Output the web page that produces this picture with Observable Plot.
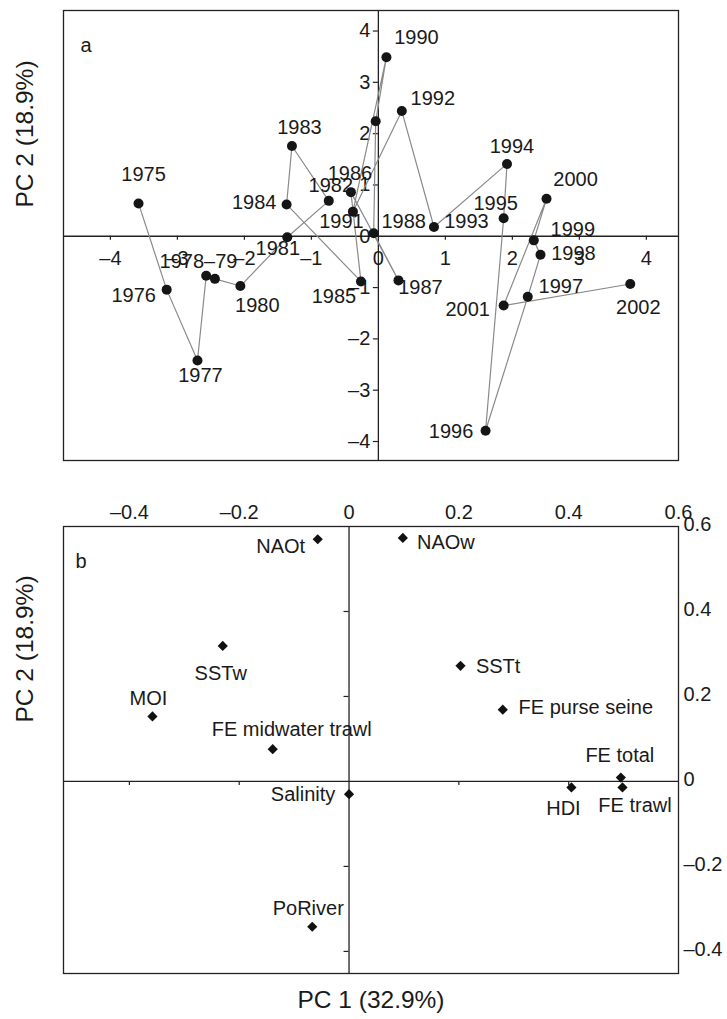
<!DOCTYPE html>
<html>
<head>
<meta charset="utf-8">
<script src="https://cdn.jsdelivr.net/npm/d3@7"></script>
<script src="https://cdn.jsdelivr.net/npm/@observablehq/plot@0.6"></script>
<style>
html, body { margin: 0; padding: 0; background: #fff; overflow: hidden; }
#wrap { position: relative; width: 727px; height: 1019px; }
#wrap > div { position: absolute; left: 0; }
</style>
</head>
<body>
<div id="wrap"><div id="pa" style="top:0px"></div><div id="pb" style="top:490px"></div></div>
<script>
// ---------- Panel a: PCA scores per year ----------
const years = [1975,1976,1977,1978,1979,1980,1981,1982,1983,1984,1985,1986,1987,1988,1989,1990,1991,1992,1993,1994,1995,1996,1997,1998,1999,2000,2001,2002];
const yearLabels = ["1975","1976","1977","1978–79","","1980","1981","1982","1983","1984","1985","1986","1987","1988","","1990","1991","1992","1993","1994","1995","1996","1997","1998","1999","2000","2001","2002"];
const pc1Years = [-3.58,-3.16,-2.70,-2.57,-2.44,-2.06,-1.36,-0.74,-1.29,-1.37,-0.26,-0.41,0.30,-0.07,-0.04,0.12,-0.38,0.35,0.83,1.92,1.87,1.60,2.23,2.42,2.32,2.51,1.87,3.76];
const pc2Years = [0.64,-1.04,-2.42,-0.77,-0.83,-0.97,-0.02,0.69,1.76,0.62,-0.88,0.86,-0.86,0.06,2.24,3.49,0.48,2.44,0.18,1.41,0.35,-3.79,-1.18,-0.36,-0.08,0.73,-1.35,-0.93];
const ticksA = [-4,-3,-2,-1,0,1,2,3,4];

// ---------- Panel b: variable loadings ----------
const variables = ["NAOt","NAOw","SSTw","MOI","FE midwater trawl","SSTt","FE purse seine","FE total","FE trawl","HDI","Salinity","PoRiver"];
const pc1Vars = [-0.057,0.098,-0.230,-0.358,-0.139,0.203,0.280,0.495,0.498,0.405,0.000,-0.067];
const pc2Vars = [0.570,0.573,0.319,0.153,0.076,0.272,0.169,0.009,-0.014,-0.014,-0.030,-0.342];
const ticksBX = [-0.4,-0.2,0,0.2,0.4,0.6];
const ticksBY = [0.6,0.4,0.2,0,-0.2,-0.4];

// ---------- label placement (styles, pixel offsets from point) ----------
const yearLabelOffsets = [[5,-29],[-33,6],[3,15.5],[-7.7,-14.3],[0,0],[17,19.5],[-9.5,11],[2,-15],[7.5,-18.6],[-32.4,-1.5],[-27,15],[-1,-19],[22,7.5],[30,-11.4],[0,0],[30,-20],[-11.5,9.5],[31,-12],[32.5,-5],[5,-17],[-8,-15],[-34.5,1],[33,-10],[33,-1],[39,-10.5],[29,-19],[-36,4.5],[8,24]];
const varLabelOffsets = [[-37,7.5],[43,5],[-2,27.5],[-4,-18],[19,-20],[37.6,1],[83,-2],[-1,-22.5],[12.5,18.3],[-8,21],[-46,0.5],[-4,-18]];

const FONT = "'Liberation Sans', Arial, Helvetica, sans-serif";
const INK = "#1a1a1a";
const AXIS = "#222";
const TITLE_SIZE = 24.5;
const dash = v => String(v).replace("-", "–");

function panelA() {
  const W = 727, H = 490, mL = 63, mR = 49, mT = 10, mB = 30;
  const xDom = [-4.70, 4.48], yDom = [-4.37, 4.40];
  const pxX = (W - mL - mR) / (xDom[1] - xDom[0]);
  const pxY = (H - mT - mB) / (yDom[1] - yDom[0]);
  const tx = 5 / pxX, ty = 4 / pxY;
  const nz = ticksA.filter(t => t !== 0);
  const idx = d3.range(years.length);
  const labels = idx.filter(i => yearLabels[i]).map(i =>
    Plot.text([i], {x: j => pc1Years[j], y: j => pc2Years[j], text: j => yearLabels[j],
      dx: yearLabelOffsets[i][0], dy: yearLabelOffsets[i][1], fill: INK}));
  return Plot.plot({
    width: W, height: H, marginLeft: mL, marginRight: mR, marginTop: mT, marginBottom: mB,
    x: {domain: xDom, axis: null}, y: {domain: yDom, axis: null},
    style: {fontFamily: FONT, fontSize: "20px", background: "transparent", overflow: "visible"},
    marks: [
      Plot.frame({stroke: AXIS, strokeWidth: 1.3}),
      Plot.ruleY([0], {stroke: AXIS, strokeWidth: 1.3}),
      Plot.ruleX([0], {stroke: AXIS, strokeWidth: 1.3}),
      Plot.ruleX(nz, {x: d => d, y1: 0, y2: -ty, stroke: AXIS, strokeWidth: 1.2}),
      Plot.ruleY(nz, {y: d => d, x1: -tx, x2: 0, stroke: AXIS, strokeWidth: 1.2}),
      Plot.text(ticksA, {x: d => d, y: () => 0, text: dash, dy: 22, fill: INK}),
      Plot.text(ticksA, {x: () => 0, y: d => d, text: dash, textAnchor: "end", dx: -8, fill: INK}),
      Plot.line(idx, {x: i => pc1Years[i], y: i => pc2Years[i], stroke: "#8a8a8a", strokeWidth: 1.2}),
      Plot.dot(idx, {x: i => pc1Years[i], y: i => pc2Years[i], r: 5, fill: "#151515", stroke: "none"}),
      ...labels,
      Plot.text(["a"], {frameAnchor: "top-left", textAnchor: "start", dx: 17, dy: 27, fill: INK}),
      Plot.text(["PC 2 (18.9%)"], {frameAnchor: "left", rotate: -90, dx: -38, dy: -28, fontSize: TITLE_SIZE, fill: INK})
    ]
  });
}

function panelB() {
  const W = 727, H = 529, mL = 63, mR = 49, mT = 36, mB = 46;
  const xDom = [-0.52, 0.6], yDom = [-0.452, 0.6];
  const pxX = (W - mL - mR) / (xDom[1] - xDom[0]);
  const pxY = (H - mT - mB) / (yDom[1] - yDom[0]);
  const tx = 5 / pxX, ty = 4 / pxY;
  const idx = d3.range(variables.length);
  const labels = idx.map(i =>
    Plot.text([i], {x: j => pc1Vars[j], y: j => pc2Vars[j], text: j => variables[j],
      dx: varLabelOffsets[i][0], dy: varLabelOffsets[i][1], fill: INK}));
  return Plot.plot({
    width: W, height: H, marginLeft: mL, marginRight: mR, marginTop: mT, marginBottom: mB,
    x: {domain: xDom, axis: null}, y: {domain: yDom, axis: null},
    style: {fontFamily: FONT, fontSize: "20px", background: "transparent", overflow: "visible"},
    marks: [
      Plot.frame({stroke: AXIS, strokeWidth: 1.3}),
      Plot.ruleY([0], {stroke: AXIS, strokeWidth: 1.3}),
      Plot.ruleX([0], {stroke: AXIS, strokeWidth: 1.3}),
      Plot.ruleX(ticksBX.filter(t => t !== 0 && t < 0.6), {x: d => d, y1: 0, y2: -ty, stroke: AXIS, strokeWidth: 1.2}),
      Plot.ruleY(ticksBY.filter(t => t !== 0 && t < 0.6), {y: d => d, x1: -tx, x2: 0, stroke: AXIS, strokeWidth: 1.2}),
      Plot.text(ticksBX, {x: d => d, frameAnchor: "top", text: dash, dy: -22, fill: INK}),
      Plot.text(ticksBY, {y: d => d, frameAnchor: "right", text: dash, textAnchor: "start", dx: 5, dy: -2, fill: INK}),
      Plot.dot(idx, {x: i => pc1Vars[i], y: i => pc2Vars[i], symbol: "diamond2", r: 4.6, fill: "#111", stroke: "none"}),
      ...labels,
      Plot.text(["b"], {frameAnchor: "top-left", textAnchor: "start", dx: 12, dy: 27, fill: INK}),
      Plot.text(["PC 2 (18.9%)"], {frameAnchor: "left", rotate: -90, dx: -38, dy: -27.5, fontSize: TITLE_SIZE, fill: INK}),
      Plot.text(["PC 1 (32.9%)"], {frameAnchor: "bottom", dy: 34, fontSize: TITLE_SIZE, fill: INK})
    ]
  });
}

document.getElementById("pa").appendChild(panelA());
document.getElementById("pb").appendChild(panelB());
</script>
</body>
</html>
